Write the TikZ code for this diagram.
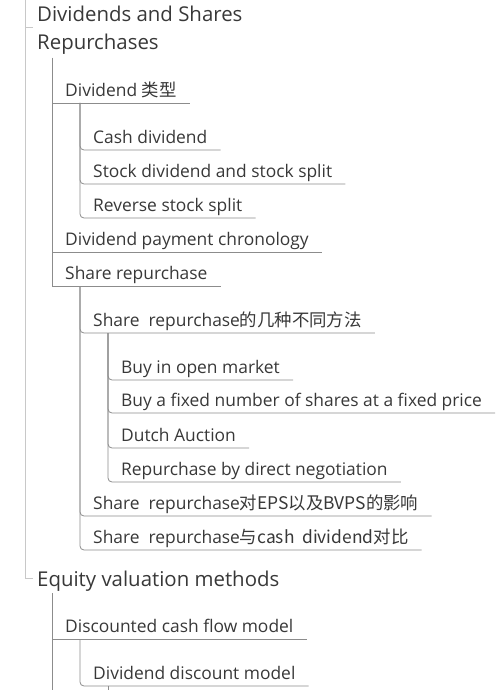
\documentclass[tikz,border=0pt]{standalone}
\usepackage{fontspec}
\setmainfont{Open Sans}
\newfontfamily\cjk{Noto Sans CJK SC}
\definecolor{txtgray}{HTML}{383838}
\definecolor{linegray}{HTML}{8C8C8C}
\definecolor{trunkgray}{HTML}{C8C8C8}
\begin{document}
\begin{tikzpicture}[x=1pt,y=-1pt]
        \tikzstyle{root}=[anchor=base west,inner xsep=4pt,inner ysep=0pt,align=left,text=txtgray,font=\fontsize{20.4}{28}\selectfont]
        \tikzstyle{topic}=[anchor=south west,inner xsep=13pt,inner ysep=0pt,text height=13pt,text depth=6pt,text=txtgray,font=\fontsize{17.4}{20}\selectfont]
        \tikzstyle{trunk}=[draw=trunkgray,line width=0.9pt]
        \tikzstyle{branch}=[draw=linegray,line width=0.8pt]
        \tikzstyle{curved}=[branch,rounded corners=4pt]
        \useasboundingbox (0,0) rectangle (499,690);
        % roots
        \node [root] (dsr) at (33,50) {Dividends and Shares\\Repurchases};
        \node [root] (eq) at (33,586) {Equity valuation methods};
        \coordinate (top) at (25,0);
        \path[trunk] (top) |- ([yshift=8pt]eq.base west);
        \path[trunk] (top |- 0,27) -- (33,27);
        % dividends and shares repurchases
        \coordinate (dsrb) at (52,58);
        \node [topic] (div) at (52,103) {Dividend \cjk{类型}};
        \node [topic] (cash) at (80,150) {Cash dividend};
        \node [topic] (stock) at (80,184) {Stock dividend and stock split};
        \node [topic] (rev) at (80,218) {Reverse stock split};
        \node [topic] (chron) at (52,252) {Dividend payment chronology};
        \node [topic] (share) at (52,286) {Share repurchase};
        \node [topic] (ways) at (80,333) {Share~ repurchase\cjk{的几种不同方法}};
        \node [topic] (open) at (108,380) {Buy in open market};
        \node [topic] (fixed) at (108,413) {Buy a fixed number of shares at a fixed price};
        \node [topic] (dutch) at (108,448) {Dutch Auction};
        \node [topic] (nego) at (108,482) {Repurchase by direct negotiation};
        \node [topic] (eps) at (80,516) {Share~ repurchase\cjk{对}EPS\cjk{以及}BVPS\cjk{的影响}};
        \node [topic] (cmp) at (80,550) {Share~ repurchase\cjk{与}cash~ dividend\cjk{对比}};
        \foreach \n in {div,chron,share}
          \path[branch] (dsrb) |- (\n.south east);
        \foreach \n in {cash,stock,rev}
          \path[curved] ([xshift=28pt]div.south west) |- (\n.south east);
        \foreach \n in {ways,eps,cmp}
          \path[curved] ([xshift=28pt]share.south west) |- (\n.south east);
        \foreach \n in {open,fixed,dutch,nego}
          \path[curved] ([xshift=28pt]ways.south west) |- (\n.south east);
        % equity valuation methods
        \coordinate (eqb) at (52,593);
        \coordinate (eqend) at (52,690);
        \node [topic] (dcf) at (52,639) {Discounted cash flow model};
        \node [topic] (ddm) at (80,686) {Dividend discount model};
        \coordinate (ddmend) at (108,690);
        \path[branch] (eqb) -- (eqend);
        \path[branch] (dcf.south west) -- (dcf.south east);
        \path[curved] ([xshift=28pt]dcf.south west) |- (ddm.south east);
        \path[branch] ([xshift=28pt]ddm.south west) -- (ddmend);
\end{tikzpicture}
\end{document}
